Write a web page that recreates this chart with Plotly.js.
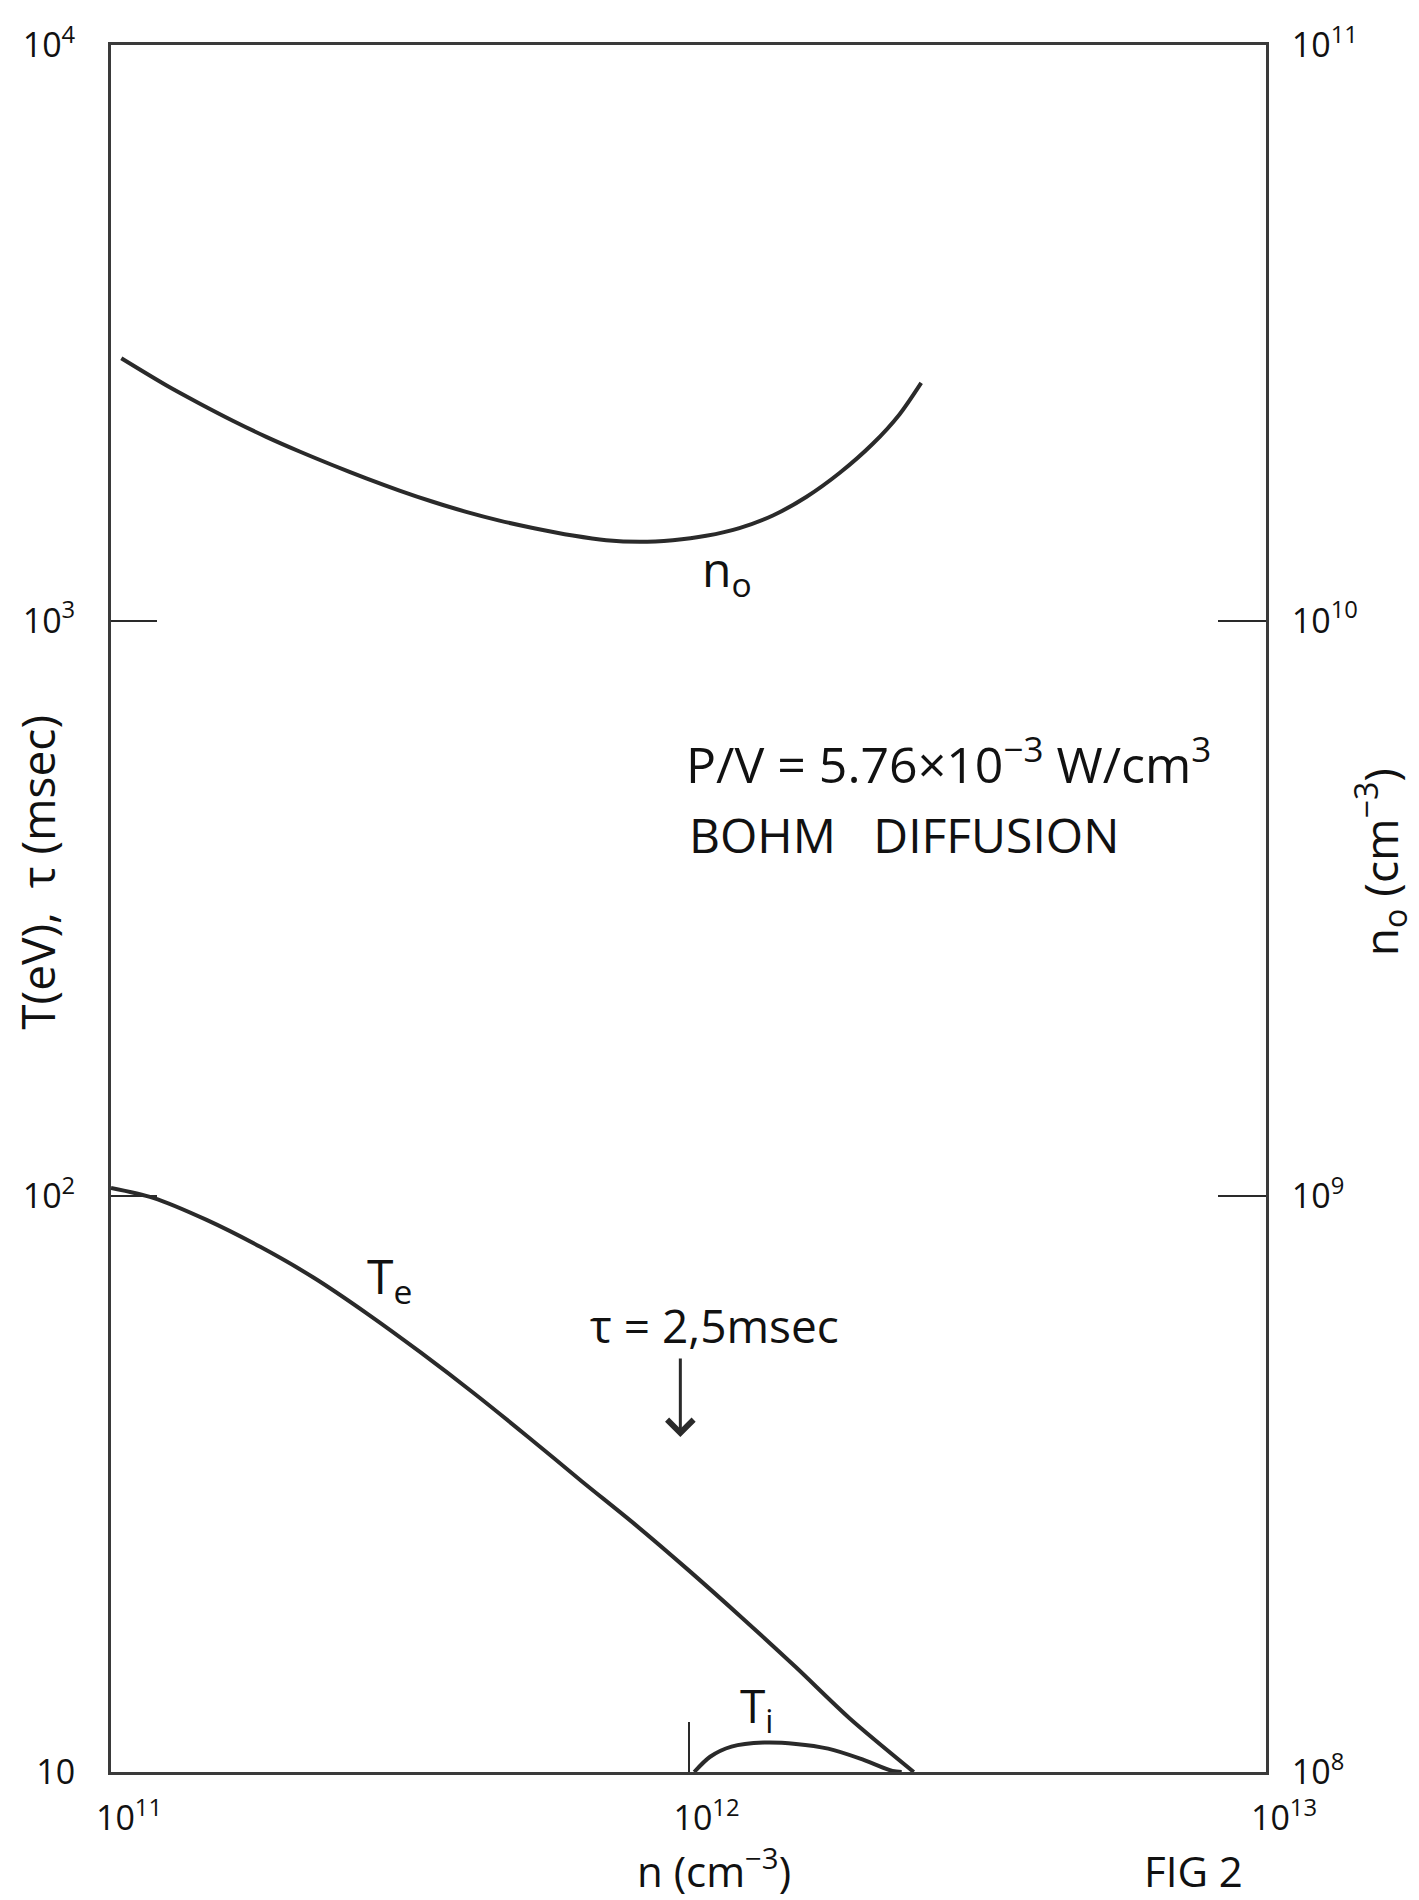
<!DOCTYPE html>
<html>
<head>
<meta charset="utf-8">
<script src="https://cdn.plot.ly/plotly-3.0.1.min.js"></script>
<style>
  html, body { margin: 0; padding: 0; background: #ffffff; }
  #chart { width: 1419px; height: 1900px; }
</style>
</head>
<body>
<div id="chart"></div>
<script>
// Neutral density n_o (cm^-3) against plasma density n (cm^-3), right axis
const nNeutral = [1.042e11, 1.246e11, 1.423e11, 1.625e11, 1.857e11, 2.121e11, 2.422e11, 2.767e11,
                  3.159e11, 3.607e11, 4.121e11, 4.707e11, 5.376e11, 6.305e11, 7.203e11, 8.228e11,
                  9.393e11, 1.073e12, 1.225e12, 1.400e12, 1.599e12, 1.826e12, 2.085e12, 2.319e12, 2.529e12];
const neutralDensity = [2.856e10, 2.564e10, 2.384e10, 2.225e10, 2.086e10, 1.967e10, 1.862e10, 1.767e10,
                        1.683e10, 1.609e10, 1.545e10, 1.492e10, 1.449e10, 1.406e10, 1.380e10, 1.371e10,
                        1.380e10, 1.404e10, 1.448e10, 1.523e10, 1.640e10, 1.805e10, 2.029e10, 2.282e10, 2.589e10];

// Electron temperature T_e (eV), left axis
const nElectron = [1.00e11, 1.183e11, 1.464e11, 1.813e11, 2.245e11, 2.780e11, 3.441e11, 4.261e11,
                   5.276e11, 6.531e11, 8.087e11, 1.001e12, 1.240e12, 1.535e12, 1.900e12, 2.455e12];
const electronTemp = [103.4, 99.4, 91.0, 81.7, 72.2, 62.5, 53.5, 45.4,
                      38.2, 32.0, 26.9, 22.4, 18.5, 15.2, 12.4, 10.0];

// Ion temperature T_i (eV), left axis
const nIon = [1.023e12, 1.090e12, 1.187e12, 1.350e12, 1.535e12, 1.745e12, 1.983e12, 2.255e12, 2.34e12];
const ionTemp = [10.0, 10.63, 11.07, 11.25, 11.19, 10.98, 10.55, 10.04, 10.0];

// Confinement time marker (tau = 2.5 msec)
const tauDensity = 9.68e11;
const tauArrowFrom = 52.6;
const tauArrowTo = 38.2;

// Axis ticks
const xTickVals = [1e11, 1e12, 1e13];
const xTickText = ['10<sup>11</sup>', '10<sup>12</sup>', '10<sup>13</sup>'];
const yTickVals = [10, 100, 1000, 10000];
const yTickText = ['10', '10<sup>2</sup>', '10<sup>3</sup>', '10<sup>4</sup>'];
const y2TickVals = [1e8, 1e9, 1e10, 1e11];
const y2TickText = ['10<sup>8</sup>', '10<sup>9</sup>', '10<sup>10</sup>', '10<sup>11</sup>'];

const ink = '#2a2a2a';
const frame = '#3a3a3a';
const textColor = '#111111';
const fontFamily = '"Open Sans", "DejaVu Sans", sans-serif';

const curveLine = { color: ink, width: 4, shape: 'spline', smoothing: 0.8 };

const traces = [
  { x: nElectron, y: electronTemp, mode: 'lines', line: curveLine, name: 'T_e', xaxis: 'x', yaxis: 'y' },
  { x: nIon, y: ionTemp, mode: 'lines', line: curveLine, name: 'T_i', xaxis: 'x', yaxis: 'y' },
  { x: nNeutral, y: neutralDensity, mode: 'lines', line: curveLine, name: 'n_o', xaxis: 'x', yaxis: 'y2' }
];

const axisCommon = {
  type: 'log',
  showgrid: false,
  zeroline: false,
  showline: true,
  linewidth: 3,
  linecolor: frame,
  ticks: 'inside',
  tickwidth: 2,
  tickcolor: ink,
  tickfont: { family: fontFamily, size: 34, color: textColor }
};

function label(text, x, y, size, extra) {
  return Object.assign({
    xref: 'paper', yref: 'paper', x: x, y: y,
    xanchor: 'center', yanchor: 'middle', showarrow: false, text: text,
    font: { family: fontFamily, size: size, color: textColor }
  }, extra || {});
}

const layout = {
  width: 1419,
  height: 1900,
  margin: { l: 111, r: 153, t: 45, b: 128 },
  paper_bgcolor: '#ffffff',
  plot_bgcolor: '#ffffff',
  showlegend: false,
  font: { family: fontFamily, color: textColor },
  xaxis: Object.assign({}, axisCommon, {
    range: [11, 13],
    tickvals: xTickVals,
    ticktext: xTickText,
    ticklen: 50,
    mirror: true,
    ticklabelshift: 18,
    ticklabelstandoff: 14
  }),
  yaxis: Object.assign({}, axisCommon, {
    range: [1, 4],
    tickvals: yTickVals,
    ticktext: yTickText,
    ticklen: 46,
    mirror: true,
    ticklabelstandoff: 26
  }),
  yaxis2: Object.assign({}, axisCommon, {
    range: [8, 11],
    overlaying: 'y',
    side: 'right',
    tickvals: y2TickVals,
    ticktext: y2TickText,
    ticklen: 48,
    ticklabelstandoff: 16
  }),
  annotations: [
    // axis titles
    label('T(eV),  τ (msec)', -0.0636, 0.521, 46, { textangle: -90 }),
    label('n<sub>o</sub> (cm<sup>−3</sup>)', 1.099, 0.527, 46, { textangle: -90 }),
    label('n (cm<sup>−3</sup>)', 0.5225, -0.0745, 42, { yanchor: 'bottom' }),
    label('FIG 2', 0.937, -0.0745, 42, { yanchor: 'bottom' }),
    // operating conditions
    label('P/V = 5.76×10<sup>−3</sup> W/cm<sup>3</sup>', 0.4965, 0.585, 50, { xanchor: 'left' }),
    label('BOHM\u00a0\u00a0\u00a0DIFFUSION', 0.499, 0.543, 48, { xanchor: 'left' }),
    // curve labels
    label('n<sub>o</sub>', 0.533, 0.695, 48),
    label('T<sub>e</sub>', 0.241, 0.2855, 48),
    label('T<sub>i</sub>', 0.559, 0.037, 46),
    label('τ = 2,5msec', 0.5225, 0.2588, 46),
    { xref: 'x', yref: 'y', axref: 'x', ayref: 'y',
      x: Math.log10(tauDensity), y: Math.log10(tauArrowTo),
      ax: Math.log10(tauDensity), ay: Math.log10(tauArrowFrom),
      text: '', showarrow: true, arrowhead: 4, arrowsize: 1.7, arrowwidth: 3, arrowcolor: ink }
  ]
};

Plotly.newPlot('chart', traces, layout, { staticPlot: true, displayModeBar: false });
</script>
</body>
</html>
